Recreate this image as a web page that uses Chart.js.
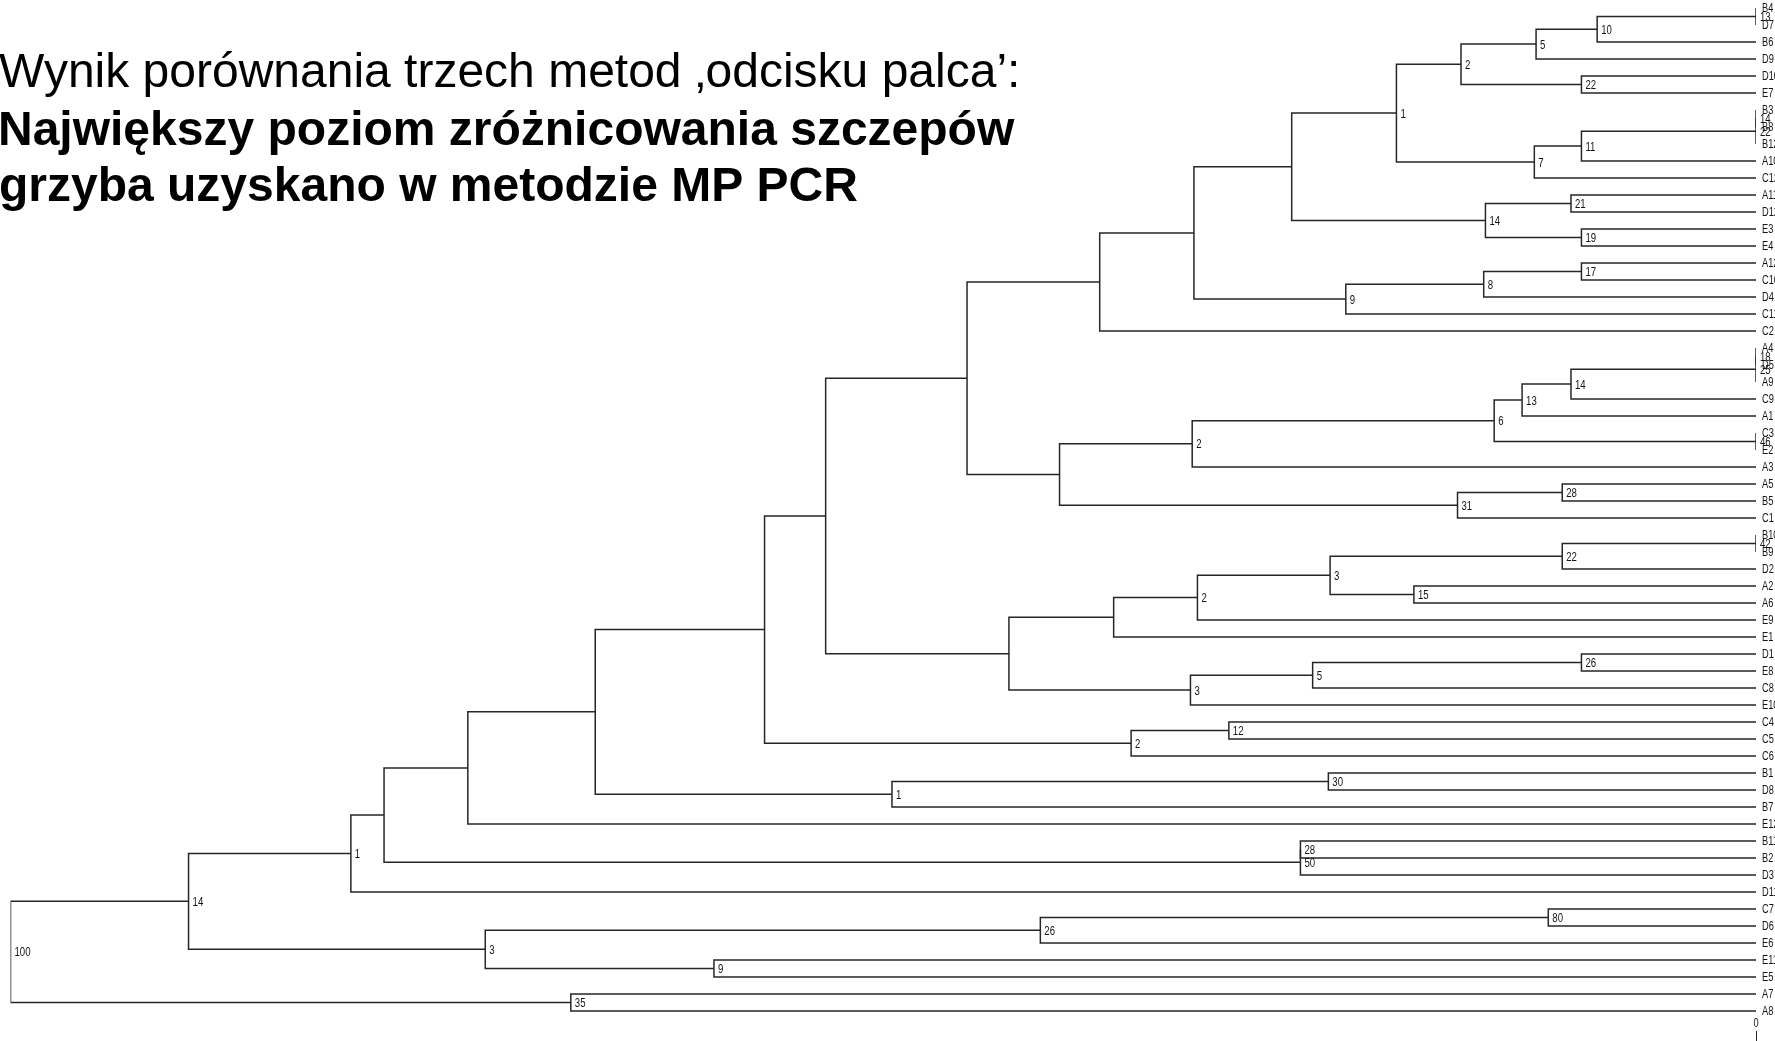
<!DOCTYPE html>
<html>
<head>
<meta charset="utf-8">
<script src="https://cdn.jsdelivr.net/npm/chart.js@4.4.1/dist/chart.umd.min.js"></script>
<style>
    body { margin: 0; background: #fff; overflow: hidden; }
    #tree-chart { display: block; }
</style>
</head>
<body>
<canvas id="tree-chart" width="1775" height="1041"></canvas>
<script>
/**
 * dendrogram data (leaves top to bottom, merges with height 0 = leaf level, 1 = root)
 */
const titleLines = [
    "Wynik porównania trzech metod \u201aodcisku palca\u2019:",
    "Największy poziom zróżnicowania szczepów",
    "grzyba uzyskano w metodzie MP PCR"
];

const leafLabels = [
    "B4", "D7", "B6", "D9", "D10", "E7", "B3", "B8", "B12", "A10",
    "C12", "A11", "D12", "E3", "E4", "A12", "C10", "D4", "C11", "C2",
    "A4", "D5", "A9", "C9", "A1", "C3", "E2", "A3", "A5", "B5",
    "C1", "B10", "B9", "D2", "A2", "A6", "E9", "E1", "D1", "E8",
    "C8", "E10", "C4", "C5", "C6", "B1", "D8", "B7", "E12", "B11",
    "B2", "D3", "D11", "C7", "D6", "E6", "E11", "E5", "A7", "A8"
];

const mergeIds = [
    "a", "b", "c", "d", "e", "f", "g", "h", "i", "j",
    "k", "l", "m", "n", "o", "p", "q", "r", "s", "t",
    "u", "v", "w", "x", "y", "z", "aa", "ab", "ac", "ad",
    "ae", "af", "ag", "ah", "ai", "aj", "ak", "al", "am", "an",
    "ao", "ap", "aq", "ar", "as", "at", "au", "av", "aw", "ax",
    "ay", "az", "ba", "bb", "bc", "bd", "be", "bf", "root"
];
const mergeLeft = [
    "B4", "a", "b", "D10", "c", "B3", "f", "g", "h", "e",
    "A11", "E3", "k", "j", "A12", "o", "p", "n", "r", "A4",
    "t", "u", "v", "C3", "w", "y", "A5", "aa", "z", "s",
    "B10", "ae", "A2", "af", "ah", "ai", "D1", "ak", "al", "aj",
    "ad", "C4", "ap", "ao", "B1", "as", "ar", "au", "B11", "aw",
    "av", "ay", "C7", "ba", "E11", "bb", "az", "A7", "be"
];
const mergeRight = [
    "D7", "B6", "D9", "E7", "d", "B8", "B12", "A10", "C12", "i",
    "D12", "E4", "l", "m", "C10", "D4", "C11", "q", "C2", "D5",
    "A9", "C9", "A1", "E2", "x", "A3", "B5", "C1", "ab", "ac",
    "B9", "D2", "A6", "ag", "E9", "E1", "E8", "C8", "E10", "am",
    "an", "C5", "C6", "aq", "D8", "B7", "at", "E12", "B2", "D3",
    "ax", "D11", "D6", "E6", "E5", "bc", "bd", "A8", "bf"
];
const mergeHeight = [
    0, 0.091, 0.126, 0.100, 0.169, 0, 0, 0.100, 0.127, 0.206,
    0.106, 0.100, 0.155, 0.266, 0.100, 0.156, 0.235, 0.322, 0.376, 0,
    0, 0.106, 0.134, 0, 0.150, 0.323, 0.111, 0.171, 0.399, 0.452,
    0, 0.111, 0.196, 0.244, 0.320, 0.368, 0.100, 0.254, 0.324, 0.428,
    0.533, 0.302, 0.358, 0.568, 0.245, 0.495, 0.665, 0.738, 0.261, 0.261,
    0.786, 0.805, 0.119, 0.410, 0.597, 0.728, 0.898, 0.679, 1.0
];
const mergeSupport = [
    "13", "10", "5", "22", "2", "14", "22", "11", "7", "1",
    "21", "19", "14", "", "17", "8", "9", "", "", "18",
    "25", "14", "13", "46", "6", "2", "28", "31", "", "",
    "42", "22", "15", "3", "2", "", "26", "5", "3", "",
    "", "12", "2", "", "30", "1", "", "", "28", "50",
    "", "1", "80", "26", "9", "3", "14", "35", "100"
];

const axisTicks = [0];

// lookup of a node (leaf or merge) -> {h, y}
function buildNodes() {
    const nodes = {};
    leafLabels.forEach((name, i) => { nodes[name] = { h: 0, y: i }; });
    mergeIds.forEach((id, i) => {
        const l = nodes[mergeLeft[i]];
        const r = nodes[mergeRight[i]];
        nodes[id] = { h: mergeHeight[i], y: (l.y + r.y) / 2, left: l, right: r, support: mergeSupport[i] };
    });
    return nodes;
}

const nodes = buildNodes();

// one bracket per merge
const datasets = mergeIds.map(id => {
    const n = nodes[id];
    return {
        data: [
            { x: n.left.h, y: n.left.y },
            { x: n.h, y: n.left.y },
            { x: n.h, y: n.right.y },
            { x: n.right.h, y: n.right.y }
        ],
        showLine: true,
        borderColor: "#262626",
        borderWidth: 1.5,
        pointRadius: 0,
        tension: 0,
        fill: false
    };
});

// text squeezed horizontally, like the original figure
function narrowText(ctx, text, x, y, sx) {
    ctx.save();
    ctx.translate(x, y);
    ctx.scale(sx, 1);
    ctx.fillText(text, 0, 0);
    ctx.restore();
}

const treeText = {
    id: "treeText",
    afterDatasetsDraw(chart) {
        const ctx = chart.ctx;
        const xs = chart.scales.x;
        const ys = chart.scales.y;

        ctx.save();
        ctx.fillStyle = "#141414";
        ctx.textBaseline = "middle";
        ctx.textAlign = "left";

        // merge support labels
        ctx.font = '13px "Liberation Sans", Arial, sans-serif';
        mergeIds.forEach(id => {
            const n = nodes[id];
            if (n.support === "") return;
            narrowText(ctx, n.support, xs.getPixelForValue(n.h) + 4, ys.getPixelForValue(n.y) + 1, 0.74);
        });

        // leaf labels
        ctx.font = '12.5px "Liberation Sans", Arial, sans-serif';
        leafLabels.forEach((name, i) => {
            narrowText(ctx, name, xs.getPixelForValue(0) + 6, ys.getPixelForValue(i) + 1, 0.74);
        });

        // bottom scale tick
        axisTicks.forEach(t => {
            const px = xs.getPixelForValue(t);
            ctx.textAlign = "center";
            narrowText(ctx, String(t), px, 1024, 0.74);
            ctx.strokeStyle = "#262626";
            ctx.lineWidth = 1;
            ctx.beginPath();
            ctx.moveTo(px + 0.5, 1031);
            ctx.lineTo(px + 0.5, 1041);
            ctx.stroke();
        });

        // title
        ctx.textAlign = "left";
        ctx.textBaseline = "alphabetic";
        ctx.fillStyle = "#000";
        ctx.font = '48px "Liberation Sans", Arial, sans-serif';
        ctx.fillText(titleLines[0], -1, 87);
        ctx.font = 'bold 48px "Liberation Sans", Arial, sans-serif';
        ctx.fillText(titleLines[1], -2, 145);
        ctx.fillText(titleLines[2], -1, 201);
        ctx.restore();
    }
};

const ctx = document.getElementById("tree-chart").getContext("2d");

new Chart(ctx, {
    type: "scatter",
    data: { datasets: datasets },
    options: {
        responsive: false,
        animation: false,
        devicePixelRatio: 1,
        layout: { padding: { left: 10.5, right: 19, top: 0, bottom: 0 } },
        plugins: {
            legend: { display: false },
            tooltip: { enabled: false }
        },
        scales: {
            x: { type: "linear", reverse: true, min: 0, max: 1, display: false },
            y: { type: "linear", reverse: true, min: -0.465, max: 60.77, display: false }
        }
    },
    plugins: [treeText]
});
</script>
</body>
</html>
